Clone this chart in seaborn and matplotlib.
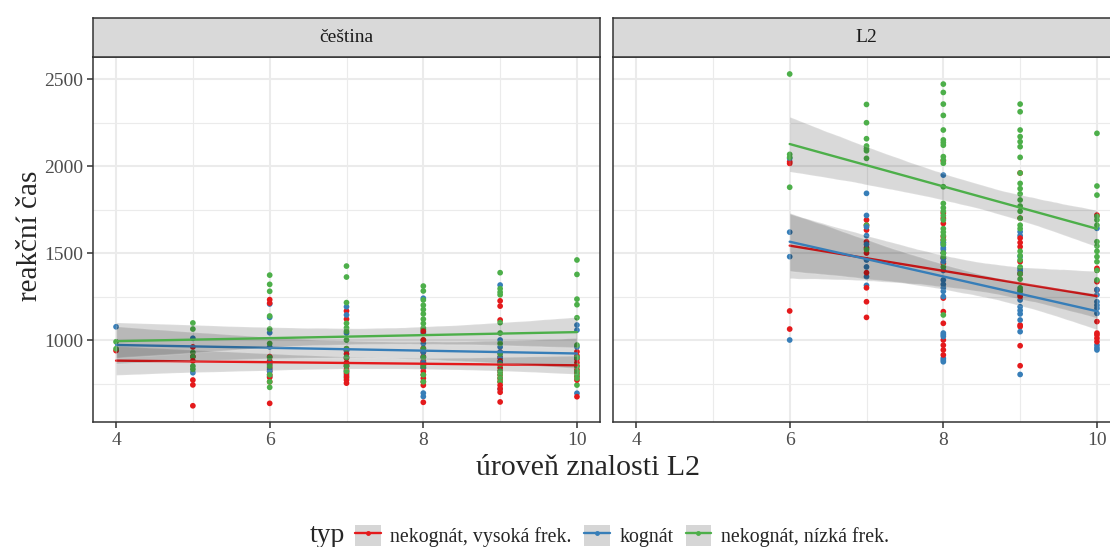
import matplotlib
matplotlib.use("Agg")
import pandas as pd
import seaborn as sns
import matplotlib.pyplot as plt
from matplotlib.patches import Patch
from matplotlib.lines import Line2D
from matplotlib.ticker import FixedLocator

# Úrovně znalosti L2 (osa x) v obou panelech
UROVNE_CS = [4, 5, 6, 7, 8, 9, 10]
UROVNE_L2 = [6, 7, 8, 9, 10]

PANELY = ["čeština", "L2"]
TYPY = ["nekognát, vysoká frek.", "kognát", "nekognát, nízká frek."]
BARVY = ["#E41A1C", "#377EB8", "#4DAF4A"]

# Reakční časy (ms) – panel čeština, po úrovních 4..10
CS_VYSOKA = [
    [939],
    [770, 742, 622, 905, 960, 880],
    [1232, 1212, 905, 880, 860, 840, 820, 800, 785, 760, 636],
    [1167, 1120, 940, 950, 920, 895, 870, 850, 830, 810, 790, 770, 752],
    [952, 930, 905, 880, 870, 855, 840, 820, 800, 780, 760, 740, 642, 1000, 1050],
    [1225, 1195, 1115, 930, 900, 880, 860, 840, 820, 800, 780, 760, 740, 644, 720, 700],
    [933, 910, 890, 870, 850, 830, 810, 790, 770, 674],
]
CS_KOGNAT = [
    [1076],
    [1010, 812],
    [1207, 1130, 1042, 960, 870, 830, 790, 820],
    [1191, 1144, 1040, 940, 900, 860, 820, 800],
    [1240, 1040, 980, 930, 900, 870, 840, 695, 675],
    [1316, 1000, 960, 930, 900, 870, 718, 820],
    [1086, 1057, 960, 900, 694],
]
CS_NIZKA = [
    [990, 950],
    [1098, 1063, 929, 904, 832, 850],
    [1373, 1320, 1280, 1138, 1063, 980, 728, 900, 850, 800, 760],
    [1425, 1362, 1215, 1096, 1070, 1050, 1000, 950, 900, 782, 850, 820],
    [1310, 1282, 1230, 1200, 1175, 1150, 1120, 1095, 1070, 1060, 1000, 950, 900, 850, 800, 760],
    [1387, 1295, 1275, 1260, 1100, 1040, 980, 920, 860, 800, 780, 760, 820],
    [1460, 1377, 1235, 1203, 1128, 971, 741, 800, 900, 850, 780, 820],
]

# Reakční časy (ms) – panel L2, po úrovních 6..10
L2_VYSOKA = [
    [2025, 2015, 1167, 1063],
    [1690, 1660, 1632, 1565, 1530, 1500, 1387, 1220, 1130, 1300],
    [2030, 1730, 1700, 1670, 1594, 1575, 1500, 1470, 1440, 1241, 1163, 1096, 1000, 970, 943, 914],
    [1960, 1700, 1586, 1560, 1536, 1450, 1380, 1086, 1077, 967, 852, 1250],
    [1718, 1412, 1402, 1335, 1287, 1106, 1029, 1010, 1040, 990],
]
L2_KOGNAT = [
    [2044, 1479, 1000, 1620],
    [1843, 1716, 1460, 1364, 1314, 1550, 1420, 1600, 1650],
    [1948, 1560, 1545, 1530, 1520, 1345, 1320, 1300, 1280, 1250, 1040, 1030, 1020, 895, 885, 875,
     1450, 1400, 1500, 1470, 1560],
    [1622, 1600, 1414, 1400, 1385, 1287, 1260, 1230, 1191, 1170, 1150, 1115, 1048, 802, 1480],
    [1642, 1220, 1200, 1182, 1153, 971, 955, 943, 1260, 1290],
]
L2_NIZKA = [
    [2529, 2067, 2050, 1878],
    [2354, 2249, 2157, 2115, 2100, 2088, 2044, 1660, 1520],
    [2471, 2423, 2356, 2291, 2207, 2150, 2135, 2120, 2054, 2035, 2016, 1881, 1785, 1760,
     1740, 1715, 1690, 1640, 1620, 1600, 1575, 1144, 1550, 1500, 1480, 1420],
    [2356, 2312, 2207, 2169, 2140, 2111, 2050, 1960, 1900, 1870, 1840, 1805, 1770, 1740,
     1700, 1660, 1640, 1510, 1485, 1460, 1420, 1380, 1350, 1300, 1280],
    [2188, 1885, 1833, 1710, 1690, 1660, 1565, 1540, 1510, 1479, 1345, 1450, 1400],
]


def sestav(jazyk, urovne, skupiny):
    """Dlouhá tabulka; řádky skupin se střídají, aby se body barev promíchaly."""
    radky = []
    for i, x in enumerate(urovne):
        sloupce = [s[i] for s in skupiny]
        for k in range(max(len(c) for c in sloupce)):
            for typ, c in zip(TYPY, sloupce):
                if k < len(c):
                    radky.append((jazyk, x, typ, c[k]))
    return radky


data = pd.DataFrame(
    sestav("čeština", UROVNE_CS, [CS_VYSOKA, CS_KOGNAT, CS_NIZKA])
    + sestav("L2", UROVNE_L2, [L2_VYSOKA, L2_KOGNAT, L2_NIZKA]),
    columns=["jazyk", "uroven", "typ", "cas"],
)

sns.set_theme(style="white")
plt.rcParams["font.family"] = ["Liberation Serif", "DejaVu Serif"]

W, H = 1110, 547
fig = plt.figure(figsize=(W / 100, H / 100), dpi=100)


def px(x0, y0, x1, y1):
    return [x0 / W, 1 - y1 / H, (x1 - x0) / W, (y1 - y0) / H]


TMAVA = "#333333"
MRIZKA = "#EBEBEB"
paletka = dict(zip(TYPY, BARVY))

panel_x = [(93, 600), (613, 1120)]
for j, (jazyk, (x0, x1)) in enumerate(zip(PANELY, panel_x)):
    ax = fig.add_axes(px(x0, 57.3, x1, 422.3))
    sub = data[data["jazyk"] == jazyk]

    sns.scatterplot(data=sub, x="uroven", y="cas", hue="typ", palette=paletka,
                    hue_order=TYPY, s=17, linewidth=0, legend=False, ax=ax, zorder=3)
    # pás spolehlivosti a přímka každé skupiny se kreslí postupně přes sebe
    for k, (typ, barva) in enumerate(zip(TYPY, BARVY)):
        g = sub[sub["typ"] == typ]
        n_coll, n_lin = len(ax.collections), len(ax.lines)
        sns.regplot(data=g, x="uroven", y="cas", scatter=False, ci=95, n_boot=2000,
                    seed=7, color="black", line_kws=dict(lw=0), ax=ax)
        sns.regplot(data=g, x="uroven", y="cas", scatter=False, ci=None,
                    color=barva, line_kws=dict(lw=1.7), ax=ax)
        for coll in ax.collections[n_coll:]:
            coll.set_zorder(4 + 2 * k)
        for ln in ax.lines[n_lin:]:
            ln.set_zorder(5 + 2 * k)

    ax.set_xlim(3.7, 10.3)
    ax.set_ylim(527, 2625)
    ax.xaxis.set_major_locator(FixedLocator([4, 6, 8, 10]))
    ax.xaxis.set_minor_locator(FixedLocator([5, 7, 9]))
    ax.yaxis.set_major_locator(FixedLocator([1000, 1500, 2000, 2500]))
    ax.yaxis.set_minor_locator(FixedLocator([750, 1250, 1750, 2250]))
    ax.grid(which="major", color=MRIZKA, lw=1.5, zorder=0)
    ax.grid(which="minor", color=MRIZKA, lw=0.8, zorder=0)
    ax.set_axisbelow(True)
    ax.set_xlabel("")
    ax.set_ylabel("")
    for sp in ax.spines.values():
        sp.set_color(TMAVA)
        sp.set_linewidth(1.1)
        sp.set_zorder(20)
    ax.tick_params(which="major", direction="out", length=4, width=1.1,
                   color=TMAVA, labelcolor="#4D4D4D", labelsize=14, pad=3,
                   bottom=True, left=(j == 0), labelleft=(j == 0))
    ax.tick_params(which="minor", length=0)

    # záhlaví panelu
    st = fig.add_axes(px(x0, 18.3, x1, 57.3))
    st.set_facecolor("#D9D9D9")
    st.set_xticks([])
    st.set_yticks([])
    for sp in st.spines.values():
        sp.set_color(TMAVA)
        sp.set_linewidth(1.1)
    st.text(0.5, 0.5, jazyk, ha="center", va="center", fontsize=14,
            color="#1A1A1A", transform=st.transAxes)

fig.text(30 / W, 1 - 236 / H, "reakční čas", rotation=90, ha="center",
         va="center", fontsize=21)
fig.text(588 / W, 1 - 468 / H, "úroveň znalosti L2", ha="center",
         va="center", fontsize=21.5)

# legenda dole
handles = [
    (Patch(facecolor="#D6D6D6", edgecolor="none"),
     Line2D([], [], color=b, lw=1.7, marker="o", markersize=3.5, markeredgewidth=0))
    for b in BARVY
]
fig.legend(handles, TYPY, loc="center", bbox_to_anchor=(622 / W, 1 - 536 / H),
           ncol=3, frameon=False, fontsize=14.3, handlelength=1.3, handleheight=1.3,
           handletextpad=0.5, columnspacing=0.6)
fig.text(327 / W, 1 - 536 / H, "typ", ha="center", va="center", fontsize=20)

fig.savefig("out.png", dpi=100)
